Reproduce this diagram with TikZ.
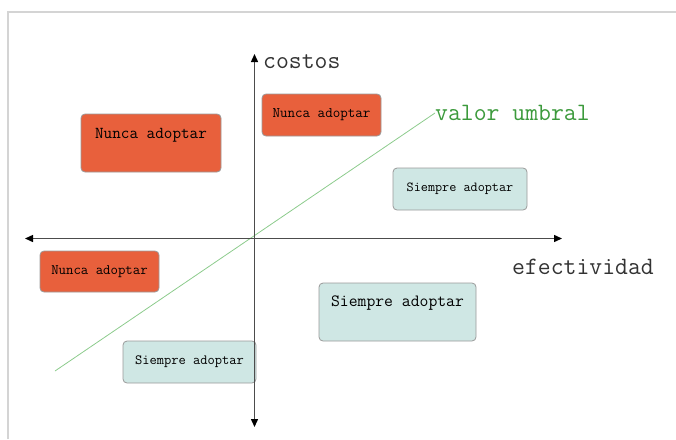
\documentclass[tikz,border=0pt]{standalone}
\usetikzlibrary{arrows.meta}
\definecolor{nuncared}{HTML}{E8603C}
\definecolor{siempreteal}{HTML}{CFE7E4}
\definecolor{boxgray}{HTML}{9A9A9A}
\definecolor{umbralgreen}{HTML}{3C9A3C}
\definecolor{umbralline}{HTML}{8CCB8C}
\definecolor{framegray}{HTML}{D4D4D4}
\begin{document}
\begin{tikzpicture}[x=1pt,y=-1pt]
            \tikzstyle{every node}+=[inner sep=0pt]
            \tikzstyle{nunca}=[draw=boxgray, fill=nuncared, rounded corners=4pt, line width=0.8pt]
            \tikzstyle{siempre}=[draw=boxgray, fill=siempreteal, rounded corners=4pt, line width=0.8pt]
            \tikzstyle{axis}=[draw=black!70, line width=1.4pt, {Triangle[length=8pt,width=7pt,black]}-{Triangle[length=8pt,width=7pt,black]}]
            \tikzstyle{axislabel}=[text=black!80, anchor=west, font=\fontsize{25}{25}\ttfamily]
            \useasboundingbox (0,0) rectangle (676,439);
            \draw [framegray, line width=1.5pt] (8,439) -- (8,12) -- (676,12);
            % threshold line
            \node [anchor=west, text=umbralgreen, font=\fontsize{25}{25}\ttfamily] (umbral) at (435,113) {valor umbral};
            \coordinate (u0) at (55,371);
            \draw [umbralline, line width=0.8pt] (u0) -- (umbral.west);
            % boxes
            \node [nunca, minimum width=140pt, minimum height=58pt] (n1) at (151,143) {};
            \node [font=\fontsize{16.7}{16.7}\ttfamily] (t1) at (151,135) {Nunca adoptar};
            \node [nunca, minimum width=119pt, minimum height=42pt, font=\fontsize{14.6}{14.6}\ttfamily] (n2) at (321.5,115) {Nunca adoptar};
            \node [siempre, minimum width=134pt, minimum height=42pt, font=\fontsize{13.8}{13.8}\ttfamily] (s1) at (460,189) {Siempre adoptar};
            \node [nunca, minimum width=119pt, minimum height=41pt, font=\fontsize{14.4}{14.4}\ttfamily] (n3) at (99.5,271.5) {Nunca adoptar};
            \node [siempre, minimum width=157pt, minimum height=58pt] (s2) at (397.5,312) {};
            \node [font=\fontsize{17.2}{17.2}\ttfamily] (t2) at (397.5,303) {Siempre adoptar};
            \node [siempre, minimum width=133pt, minimum height=42pt, font=\fontsize{14.1}{14.1}\ttfamily] (s3) at (189.5,362) {Siempre adoptar};
            % axes
            \coordinate (xl) at (25,238.5);
            \coordinate (xr) at (562,238.5);
            \coordinate (yt) at (254.5,54);
            \coordinate (yb) at (254.5,427);
            \draw [axis] (xl) -- (xr);
            \draw [axis] (yb) -- (yt);
            \node [axislabel] (costos) at (263,62) {costos};
            \node [axislabel] (efect) at (512,267) {efectividad};
        \end{tikzpicture}
\end{document}
